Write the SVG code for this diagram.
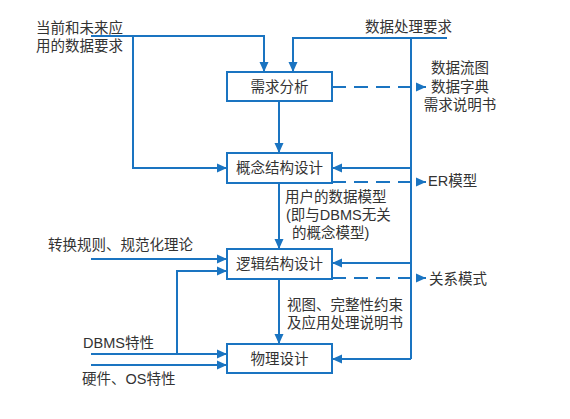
<svg xmlns="http://www.w3.org/2000/svg" width="570" height="419" viewBox="0 0 570 419">
<defs>
<marker id="ah" markerUnits="userSpaceOnUse" markerWidth="10" markerHeight="10" viewBox="0 0 10 10" refX="10" refY="5" orient="auto"><path d="M0,0.5 L10,5 L0,9.5 Z" fill="#1a74c1"/></marker>
<style>
.box{fill:#fff;stroke:#1a74c1;stroke-width:2}
.ln{fill:none;stroke:#1a74c1;stroke-width:2}
.ar{marker-end:url(#ah)}
.ds{stroke-dasharray:14,8}
text{font-family:"Liberation Sans","Noto Sans CJK SC",sans-serif;font-size:14.5px;fill:#333}
.c{text-anchor:middle}
</style>
</defs>
<rect width="570" height="419" fill="#fff"/>
<g id="connectors">
<polyline class="ln ar" points="91,36 264,36 264,72"/>
<polyline class="ln ar" points="133,36 133,168 227,168"/>
<polyline class="ln ar" points="447,38 293,38 293,72"/>
<polyline class="ln" points="411,38 411,359"/>
<polyline class="ln ar" points="411,168 332,168"/>
<polyline class="ln ar" points="411,263 332,263"/>
<polyline class="ln ar" points="411,359 332,359"/>
<line class="ln ar" x1="279" y1="101" x2="279" y2="153"/>
<line class="ln ar" x1="279" y1="183" x2="279" y2="249"/>
<line class="ln ar" x1="279" y1="279" x2="279" y2="344"/>
<line class="ln ar ds" x1="332" y1="87" x2="426" y2="87"/>
<line class="ln ar ds" x1="332" y1="182" x2="426" y2="182"/>
<line class="ln ar ds" x1="332" y1="278" x2="426" y2="278"/>
<line class="ln ar" x1="91" y1="259" x2="227" y2="259"/>
<polyline class="ln ar" points="177,354 177,271 227,271"/>
<line class="ln ar" x1="91" y1="354" x2="227" y2="354"/>
<line class="ln ar" x1="91" y1="365" x2="227" y2="365"/>
</g>
<g id="n1"><rect class="box" x="227" y="72" width="105" height="29"/><text class="c" x="279.5" y="91.5">需求分析</text></g>
<g id="n2"><rect class="box" x="227" y="153" width="105" height="30"/><text class="c" x="279.5" y="173">概念结构设计</text></g>
<g id="n3"><rect class="box" x="227" y="249" width="105" height="30"/><text class="c" x="279.5" y="269">逻辑结构设计</text></g>
<g id="n4"><rect class="box" x="227" y="344" width="105" height="29"/><text class="c" x="279.5" y="364">物理设计</text></g>
<g id="labels">
<text x="36" y="33"><tspan x="36" y="33">当前和未来应</tspan><tspan x="36" y="51">用的数据要求</tspan></text>
<text x="365" y="32">数据处理要求</text>
<text class="c" x="460" y="73"><tspan x="460" y="73">数据流图</tspan><tspan x="460" y="92">数据字典</tspan><tspan x="460" y="110">需求说明书</tspan></text>
<text x="428" y="186">ER模型</text>
<text x="285" y="202"><tspan x="285" y="202">用户的数据模型</tspan><tspan x="286" y="220">(即与DBMS无关</tspan><tspan x="292" y="238">的概念模型)</tspan></text>
<text x="429" y="284">关系模式</text>
<text x="287" y="310"><tspan x="287" y="310">视图、完整性约束</tspan><tspan x="287" y="328">及应用处理说明书</tspan></text>
<text x="48" y="250">转换规则、规范化理论</text>
<text x="83" y="348">DBMS特性</text>
<text x="82" y="384">硬件、OS特性</text>
</g>
</svg>
